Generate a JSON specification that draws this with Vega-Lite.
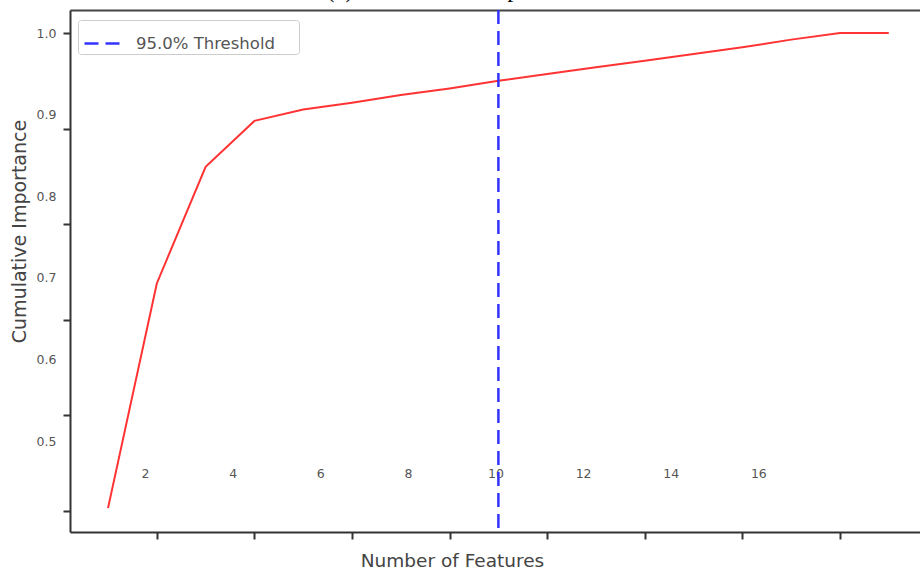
{
  "$schema": "https://vega.github.io/schema/vega-lite/v6.json",
  "width": 850,
  "height": 522,
  "autosize": {"type": "none"},
  "padding": {"left": 70, "top": 10, "right": 0, "bottom": 39},
  "background": "white",
  "title": {"text": "(a) Cumulative Importance", "font": "Liberation Serif", "fontSize": 24.5, "fontWeight": "normal", "color": "black", "baseline": "alphabetic", "offset": 0, "dy": 13, "dx": -36, "anchor": "middle"},
  "config": {"view": {"stroke": null}, "axis": {"grid": false}},
  "datasets": {
    "curve": [
      {"features": 1, "importance": 0.503},
      {"features": 2, "importance": 0.738},
      {"features": 3, "importance": 0.860},
      {"features": 4, "importance": 0.908},
      {"features": 5, "importance": 0.920},
      {"features": 6, "importance": 0.927},
      {"features": 7, "importance": 0.935},
      {"features": 8, "importance": 0.942},
      {"features": 9, "importance": 0.950},
      {"features": 10, "importance": 0.957},
      {"features": 11, "importance": 0.964},
      {"features": 12, "importance": 0.971},
      {"features": 13, "importance": 0.978},
      {"features": 14, "importance": 0.985},
      {"features": 15, "importance": 0.993},
      {"features": 16, "importance": 1.0},
      {"features": 17, "importance": 1.0}
    ],
    "threshold": [{"features": 9, "label": "95.0% Threshold"}],
    "labels": [{"xl": 2, "yl": 0.5}],
    "spine": [{"xt": 0.5}]
  },
  "layer": [
    {
      "layer": [
        {
          "data": {"name": "curve"},
          "mark": {"type": "line", "color": "#ff3333", "strokeWidth": 2},
          "encoding": {
            "x": {"field": "features", "type": "quantitative",
              "scale": {"domain": [0.221, 17.64], "nice": false, "zero": false},
              "axis": {"orient": "bottom", "values": [2, 4, 6, 8, 10, 12, 14, 16], "labels": false,
                "domainColor": "#333", "domainWidth": 2, "tickColor": "#333", "tickWidth": 2, "tickSize": 7,
                "title": "Number of Features", "titleFont": "DejaVu Sans", "titleFontSize": 18.5, "titleFontWeight": "normal",
                "titleColor": "#444", "titleX": 382, "titleY": 28, "titleBaseline": "middle", "titleAlign": "center"}},
            "y": {"field": "importance", "type": "quantitative",
              "scale": {"domain": [0.478, 1.024], "nice": false, "zero": false},
              "axis": {"orient": "left", "values": [0.5, 0.6, 0.7, 0.8, 0.9, 1.0], "labels": false,
                "domainColor": "#333", "domainWidth": 2, "tickColor": "#333", "tickWidth": 2, "tickSize": 7,
                "title": "Cumulative  Importance", "titleFont": "DejaVu Sans", "titleFontSize": 19, "titleFontWeight": "normal",
                "titleColor": "#444", "titleX": -51, "titleY": 221, "titleBaseline": "middle", "titleAlign": "center", "titleAngle": -90}}
          }
        },
        {
          "data": {"name": "threshold"},
          "mark": {"type": "rule", "strokeWidth": 2.5, "strokeDash": [14, 7]},
          "encoding": {
            "x": {"field": "features", "type": "quantitative"},
            "color": {"field": "label", "type": "nominal",
              "scale": {"domain": ["95.0% Threshold"], "range": ["#3333ff"]},
              "legend": {"title": "\u00a0", "titleOrient": "right", "titlePadding": 22, "orient": "none", "legendX": 8, "legendY": 10,
                "symbolType": "stroke", "symbolDash": [14, 7], "symbolStrokeWidth": 2.5, "symbolSize": 1600,
                "symbolStrokeColor": "#3333ff", "symbolOffset": 3,
                "labelFont": "DejaVu Sans", "labelFontSize": 16.5, "labelColor": "#555", "labelOffset": 10,
                "padding": 2, "strokeColor": "#cccccc", "fillColor": "white", "cornerRadius": 3}}
          }
        }
      ]
    },
    {
      "data": {"name": "labels"},
      "mark": {"type": "point", "opacity": 0},
      "encoding": {
        "x": {"field": "xl", "type": "quantitative",
          "scale": {"domain": [0.288, 19.69], "nice": false, "zero": false},
          "axis": {"orient": "bottom", "values": [2, 4, 6, 8, 10, 12, 14, 16], "ticks": false, "domain": false,
            "labelPadding": 0, "labelBaseline": "middle", "offset": -59, "title": null,
            "labelFont": "DejaVu Sans", "labelFontSize": 12.5, "labelColor": "#555", "labelFlush": false, "labelOverlap": false}},
        "y": {"field": "yl", "type": "quantitative",
          "scale": {"domain": [0.3885, 1.0282], "nice": false, "zero": false},
          "axis": {"orient": "left", "values": [0.5, 0.6, 0.7, 0.8, 0.9, 1.0], "format": ".1f", "ticks": false, "domain": false,
            "labelPadding": 14, "title": null,
            "labelFont": "DejaVu Sans", "labelFontSize": 12.5, "labelColor": "#555", "labelFlush": false, "labelOverlap": false}}
      }
    },
    {
      "data": {"name": "spine"},
      "mark": {"type": "point", "opacity": 0},
      "encoding": {
        "x": {"field": "xt", "type": "quantitative",
          "scale": {"domain": [0, 1], "nice": false, "zero": false},
          "axis": {"orient": "top", "ticks": false, "labels": false, "domainColor": "#444", "domainWidth": 2, "title": null}}
      }
    }
  ],
  "resolve": {"scale": {"x": "independent", "y": "independent"}, "axis": {"x": "independent", "y": "independent"}}
}
